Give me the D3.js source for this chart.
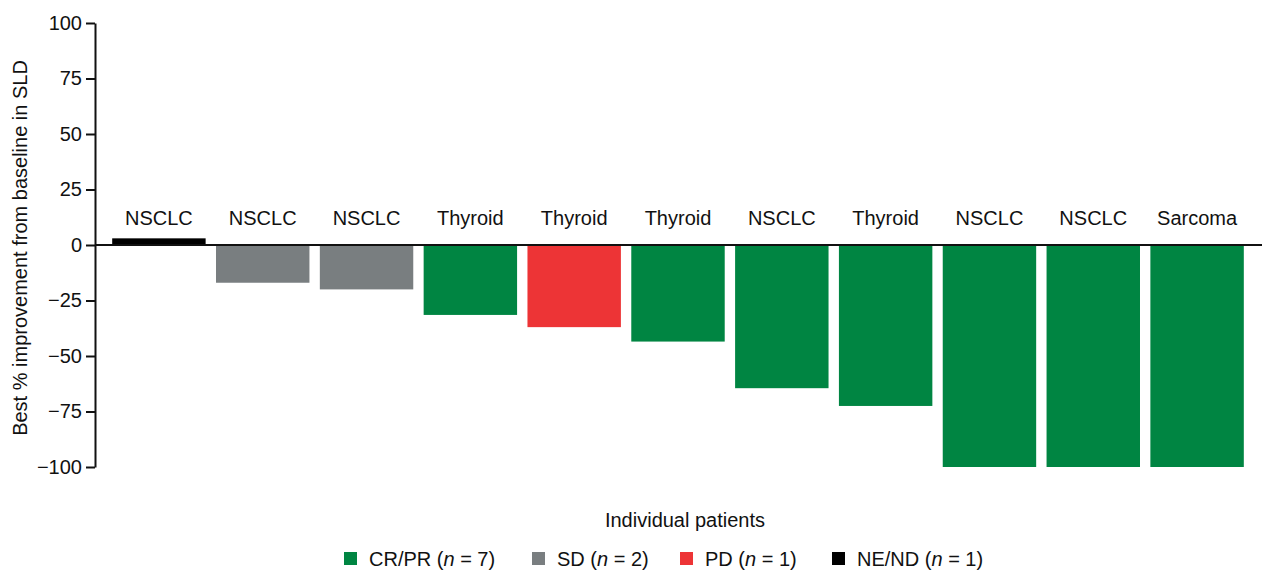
<!DOCTYPE html>
<html>
<head>
<meta charset="utf-8">
<script src="https://cdn.jsdelivr.net/npm/d3@7"></script>
<style>
body{margin:0;background:#fff;}
text{font-family:"Liberation Sans",Arial,Helvetica,sans-serif;fill:#111;}
</style>
</head>
<body>
<svg id="chart" width="1262" height="570"></svg>
<script>
const categories = ["NSCLC","NSCLC","NSCLC","Thyroid","Thyroid","Thyroid","NSCLC","Thyroid","NSCLC","NSCLC","Sarcoma"];
const values = [3, -17, -20, -31.5, -37, -43.5, -64.5, -72.5, -100, -100, -100];
const responses = ["NE/ND","SD","SD","CR/PR","PD","CR/PR","CR/PR","CR/PR","CR/PR","CR/PR","CR/PR"];
const yTicks = [100, 75, 50, 25, 0, -25, -50, -75, -100];
const legendKeys = ["CR/PR","SD","PD","NE/ND"];
const legendCounts = [7, 2, 1, 1];
const colors = {"CR/PR":"#008542","SD":"#797e80","PD":"#ed3436","NE/ND":"#000000"};

const svg = d3.select("#chart");
const x = d3.scaleBand().domain(d3.range(values.length)).range([107, 1249]).paddingInner(0.1).paddingOuter(0.05);
const y = d3.scaleLinear().domain([-100, 100]).range([467, 23]);

// bars
svg.append("g").selectAll("rect").data(values).join("rect")
  .attr("x", (d,i) => x(i))
  .attr("width", x.bandwidth())
  .attr("y", d => y(Math.max(0,d)))
  .attr("height", d => Math.abs(y(d) - y(0)))
  .attr("fill", (d,i) => colors[responses[i]]);

// zero line
svg.append("line").attr("x1", 95).attr("x2", 1262).attr("y1", y(0)).attr("y2", y(0))
  .attr("stroke", "#111").attr("stroke-width", 2);

// y axis
const yAxis = svg.append("g").attr("transform", "translate(95,0)")
  .call(d3.axisLeft(y).tickValues(yTicks).tickSize(9).tickPadding(4).tickSizeOuter(0)
    .tickFormat(d => d < 0 ? "\u2212" + Math.abs(d) : String(d)));
yAxis.select(".domain").attr("stroke", "#111").attr("stroke-width", 2);
yAxis.selectAll(".tick line").attr("stroke", "#111").attr("stroke-width", 2);
yAxis.selectAll(".tick text").style("font-size", "20px").attr("fill", "#111")
  .style("font-family", "'Liberation Sans',Arial,sans-serif");

// category labels
svg.append("g").selectAll("text").data(categories).join("text")
  .attr("x", (d,i) => x(i) + x.bandwidth()/2)
  .attr("y", 225)
  .attr("text-anchor", "middle")
  .style("font-size", "20px")
  .text(d => d);

// y label
svg.append("text")
  .attr("transform", "translate(27,248) rotate(-90)")
  .attr("text-anchor", "middle")
  .style("font-size", "20px")
  .text("Best % improvement from baseline in SLD");

// x label
svg.append("text").attr("x", 685).attr("y", 527).attr("text-anchor", "middle")
  .style("font-size", "20px").text("Individual patients");

// legend
const legendX = [344, 532, 680, 832];
const lg = svg.append("g").selectAll("g").data(legendKeys).join("g")
  .attr("transform", (d,i) => `translate(${legendX[i]},552)`);
lg.append("rect").attr("width", 13).attr("height", 13).attr("fill", d => colors[d]);
const lt = lg.append("text").attr("x", 25).attr("y", 14).style("font-size", "20px");
lt.append("tspan").text(d => d + " (");
lt.append("tspan").style("font-style", "italic").text("n");
lt.append("tspan").text((d,i) => " = " + legendCounts[i] + ")");
</script>
</body>
</html>
